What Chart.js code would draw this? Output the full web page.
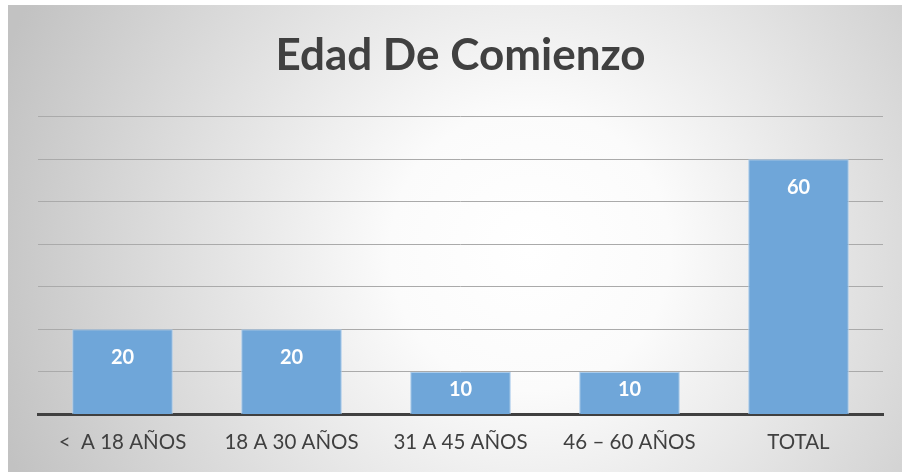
<!DOCTYPE html>
<html>
<head>
<meta charset="utf-8">
<script src="https://cdn.jsdelivr.net/npm/chart.js@4/dist/chart.umd.min.js"></script>
<style>
  html, body { margin: 0; padding: 0; background: #fff; }
  #wrap { width: 902px; height: 472px; position: relative; }
</style>
</head>
<body>
<div id="wrap"><canvas id="edadChart"></canvas></div>
<script>
// data
const categories = ['<  A 18 AÑOS', '18 A 30 AÑOS', '31 A 45 AÑOS', '46 – 60 AÑOS', 'TOTAL'];
const values     = [20, 20, 10, 10, 60];
const yTicks     = [0, 10, 20, 30, 40, 50, 60, 70];
const chartTitle = 'Edad De Comienzo';

const FONT = 'Lato, "Open Sans", sans-serif';
const TEXT = '#404040';

// gray radial background, white strip on top and left like the screenshot
const bgPlugin = {
  id: 'bg',
  beforeDraw(chart) {
    const { ctx, width, height } = chart;
    ctx.save();
    ctx.fillStyle = '#ffffff';
    ctx.fillRect(0, 0, width, height);
    const g = ctx.createRadialGradient(530, 250, 0, 530, 250, 560);
    g.addColorStop(0, '#ffffff');
    g.addColorStop(0.25, '#fbfbfb');
    g.addColorStop(1, '#c2c2c2');
    ctx.fillStyle = g;
    ctx.fillRect(8, 5, width - 8, height - 5);
    ctx.restore();
  }
};

// white value labels near the top of each bar
const labelPlugin = {
  id: 'barLabels',
  afterDatasetsDraw(chart) {
    const { ctx } = chart;
    const meta = chart.getDatasetMeta(0);
    ctx.save();
    ctx.fillStyle = '#ffffff';
    ctx.font = 'bold 20px ' + FONT;
    ctx.textAlign = 'center';
    ctx.textBaseline = 'middle';
    meta.data.forEach((bar, i) => {
      const h = bar.base - bar.y;
      const off = Math.min(28.5, (h - 6) / 2);
      ctx.fillText(String(values[i]), bar.x, bar.y + off);
    });
    ctx.restore();
  }
};

new Chart(document.getElementById('edadChart'), {
  type: 'bar',
  data: {
    labels: categories,
    datasets: [{
      data: values,
      backgroundColor: '#6fa6d9',
      borderColor: '#a9cbeb',
      borderWidth: 1,
      borderSkipped: 'bottom',
      categoryPercentage: 1,
      barPercentage: 0.595,
    }]
  },
  options: {
    responsive: true, maintainAspectRatio: false, animation: false,
    layout: { padding: { left: 38, right: 19, top: 0, bottom: 1 } },
    plugins: {
      legend: { display: false },
      tooltip: { enabled: false },
      title: {
        display: true, text: chartTitle, color: TEXT,
        font: { family: FONT, size: 44, weight: 'bold' },
        padding: { top: 29, bottom: 35 }
      }
    },
    scales: {
      x: {
        grid: { display: false, drawTicks: false },
        border: { color: '#404040', width: 3 },
        ticks: { color: TEXT, font: { family: FONT, size: 20.5 }, padding: 16 }
      },
      y: {
        min: 0, max: 70,
        afterBuildTicks: axis => { axis.ticks = yTicks.map(v => ({ value: v })); },
        ticks: { display: false },
        grid: { color: '#aaaaaa', lineWidth: 1, drawTicks: false },
        border: { display: false }
      }
    }
  },
  plugins: [bgPlugin, labelPlugin]
});
</script>
</body>
</html>
